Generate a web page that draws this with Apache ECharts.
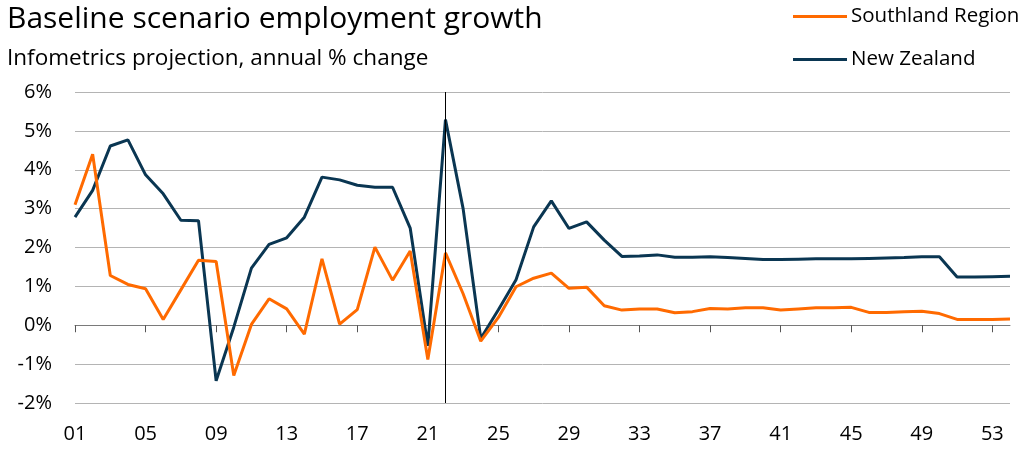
<!DOCTYPE html>
<html>
<head>
<meta charset="utf-8">
<title>Baseline scenario employment growth</title>
<script src="https://cdn.jsdelivr.net/npm/echarts@6/dist/echarts.min.js"></script>
<style>
  html, body { margin: 0; padding: 0; background: #fff; }
  #chart { width: 1023px; height: 462px; }
</style>
</head>
<body>
<div id="chart"></div>
<script>
// Years 2001–2054, shown as two-digit labels
const years = [];
for (let y = 1; y <= 54; y++) years.push(String(y).padStart(2, '0'));

// Annual % change in employment
const southland = [
  3.10, 4.40, 1.28, 1.05, 0.94, 0.15, 0.91, 1.67, 1.64, -1.29,
  0.02, 0.68, 0.42, -0.23, 1.71, 0.03, 0.40, 2.01, 1.16, 1.91,
  -0.88, 1.86, 0.81, -0.41, 0.20, 0.99, 1.21, 1.34, 0.95, 0.98,
  0.50, 0.39, 0.42, 0.42, 0.32, 0.35, 0.43, 0.42, 0.45, 0.45,
  0.39, 0.42, 0.45, 0.45, 0.46, 0.33, 0.33, 0.35, 0.36, 0.30,
  0.15, 0.15, 0.15, 0.16
];
const newZealand = [
  2.78, 3.47, 4.61, 4.77, 3.87, 3.38, 2.70, 2.69, -1.43, -0.05,
  1.47, 2.08, 2.25, 2.78, 3.81, 3.74, 3.60, 3.55, 3.55, 2.50,
  -0.53, 5.29, 3.00, -0.34, 0.40, 1.17, 2.53, 3.20, 2.49, 2.66,
  2.19, 1.77, 1.78, 1.81, 1.75, 1.75, 1.76, 1.74, 1.72, 1.69,
  1.69, 1.70, 1.71, 1.71, 1.71, 1.72, 1.73, 1.74, 1.76, 1.76,
  1.24, 1.24, 1.25, 1.26
];

// Projection start marker
const projectionStart = '22';

const FONT = 'Open Sans';

const chart = echarts.init(document.getElementById('chart'), null, { renderer: 'canvas' });

chart.setOption({
  animation: false,
  backgroundColor: '#ffffff',
  textStyle: { fontFamily: FONT },
  title: [
    {
      text: 'Baseline scenario employment growth',
      left: 2, top: -1,
      textStyle: { fontFamily: FONT, fontSize: 30, fontWeight: 'normal', color: '#000' }
    },
    {
      text: 'Infometrics projection, annual % change',
      left: 2, top: 42,
      textStyle: { fontFamily: FONT, fontSize: 22.5, fontWeight: 'normal', color: '#000' }
    }
  ],
  legend: {
    orient: 'vertical',
    left: 788, top: 1,
    itemGap: 22,
    itemWidth: 54, itemHeight: 3,
    icon: 'rect',
    textStyle: { fontFamily: FONT, fontSize: 20.5, color: '#000', padding: [0, 0, 0, -1] },
    data: ['Southland Region', 'New Zealand']
  },
  grid: { left: 75, right: 13, top: 92, bottom: 59 },
  xAxis: [
    {
      type: 'category',
      data: years,
      boundaryGap: false,
      position: 'bottom',
      axisLine: { onZero: true, lineStyle: { color: '#7a7a7a', width: 1 } },
      axisTick: { show: true, interval: 3, length: 7, lineStyle: { color: '#555' } },
      axisLabel: { show: false },
      splitLine: { show: false }
    },
    {
      type: 'category',
      data: years,
      boundaryGap: false,
      position: 'bottom',
      axisLine: { show: false, onZero: false },
      axisTick: { show: false },
      axisLabel: { interval: 3, margin: 21, fontFamily: FONT, fontSize: 20, color: '#000' },
      splitLine: { show: false }
    }
  ],
  yAxis: {
    type: 'value',
    min: -2, max: 6, interval: 1,
    axisLine: { show: false },
    axisTick: { show: false },
    axisLabel: { formatter: '{value}%', margin: 23, fontFamily: FONT, fontSize: 20, color: '#000' },
    splitLine: { lineStyle: { color: '#b4b4b4', width: 1 } }
  },
  series: [
    {
      name: 'Southland Region',
      type: 'line',
      data: southland,
      symbol: 'none',
      color: '#ff6a00',
      lineStyle: { width: 3, color: '#ff6a00' },
      z: 3
    },
    {
      name: 'New Zealand',
      type: 'line',
      data: newZealand,
      symbol: 'none',
      color: '#0a3652',
      lineStyle: { width: 3, color: '#0a3652' },
      z: 2,
      markLine: {
        silent: true,
        symbol: ['none', 'none'],
        label: { show: false },
        lineStyle: { color: '#000', width: 1, type: 'solid' },
        data: [{ xAxis: projectionStart }]
      }
    }
  ]
});
</script>
</body>
</html>
